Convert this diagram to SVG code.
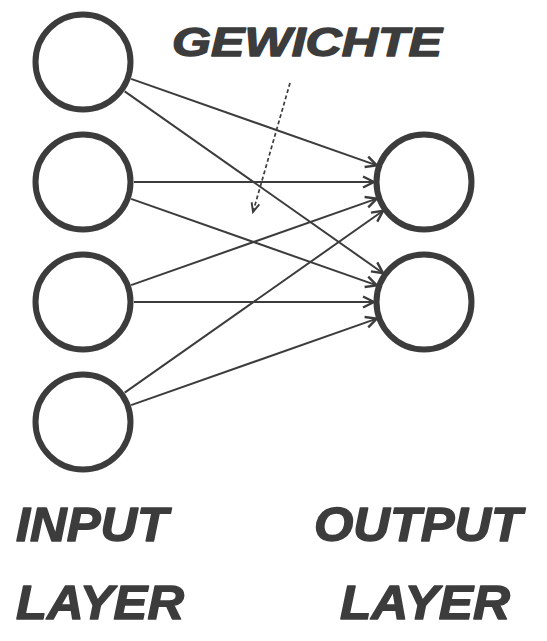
<svg xmlns="http://www.w3.org/2000/svg" width="547" height="641" viewBox="0 0 547 641">
  <style>
    .node { fill: #ffffff; stroke: #3c3c3c; stroke-width: 6; }
    .edge { stroke: #3c3c3c; stroke-width: 2; fill: none; }
    .hint { stroke: #3c3c3c; stroke-width: 1.7; fill: none; stroke-dasharray: 4 2.5; }
    .label { font-family: "Liberation Sans", "DejaVu Sans", sans-serif; font-weight: bold; font-style: italic; fill: #3c3c3c; stroke: #3c3c3c; stroke-width: 1.4; stroke-linejoin: round; }
  </style>
  <defs>
    <marker id="arrow" markerUnits="userSpaceOnUse" markerWidth="15" markerHeight="15" refX="12" refY="6.5" orient="auto" viewBox="0 0 15 13">
      <path d="M1,1 L12,6.5 L1,12" fill="none" stroke="#3c3c3c" stroke-width="2.4" stroke-linejoin="miter"/>
    </marker>
    <marker id="arrow-small" markerUnits="userSpaceOnUse" markerWidth="12" markerHeight="12" refX="10" refY="5" orient="auto" viewBox="0 0 12 10">
      <path d="M1,1 L10,5 L1,9" fill="none" stroke="#3c3c3c" stroke-width="1.9"/>
    </marker>
  </defs>

  <rect width="547" height="641" fill="#ffffff"/>

  <!-- weighted connections: every input neuron feeds every output neuron -->
  <g id="connectors">
    <line class="edge" x1="131.1" y1="78.9" x2="376.8" y2="165.4" marker-end="url(#arrow)"/>
    <line class="edge" x1="124.7" y1="91.4" x2="383.1" y2="273.2" marker-end="url(#arrow)"/>
    <line class="edge" x1="134" y1="182" x2="374" y2="182" marker-end="url(#arrow)"/>
    <line class="edge" x1="131.1" y1="198.9" x2="376.8" y2="285.4" marker-end="url(#arrow)"/>
    <line class="edge" x1="131.1" y1="285.1" x2="376.8" y2="198.6" marker-end="url(#arrow)"/>
    <line class="edge" x1="134" y1="302" x2="374" y2="302" marker-end="url(#arrow)"/>
    <line class="edge" x1="124.7" y1="392.6" x2="383.1" y2="210.8" marker-end="url(#arrow)"/>
    <line class="edge" x1="131.1" y1="405.1" x2="376.8" y2="318.6" marker-end="url(#arrow)"/>
    <!-- pointer from the "weights" caption into the connections -->
    <line class="hint" x1="290" y1="83" x2="253" y2="212" marker-end="url(#arrow-small)"/>
  </g>

  <!-- input layer -->
  <g id="input-1"><circle class="node" cx="83" cy="62" r="47.5"/></g>
  <g id="input-2"><circle class="node" cx="83" cy="182" r="47.5"/></g>
  <g id="input-3"><circle class="node" cx="83" cy="302" r="47.5"/></g>
  <g id="input-4"><circle class="node" cx="83" cy="422" r="47.5"/></g>

  <!-- output layer -->
  <g id="output-1"><circle class="node" cx="424" cy="182" r="47.5"/></g>
  <g id="output-2"><circle class="node" cx="424" cy="302" r="47.5"/></g>

  <!-- captions -->
  <g id="caption-weights">
    <text class="label" x="172" y="56" font-size="41" textLength="270" lengthAdjust="spacingAndGlyphs">GEWICHTE</text>
  </g>
  <g id="caption-input">
    <text class="label" x="16" y="541" font-size="49" textLength="152" lengthAdjust="spacingAndGlyphs">INPUT</text>
    <text class="label" x="16" y="619" font-size="49" textLength="168" lengthAdjust="spacingAndGlyphs">LAYER</text>
  </g>
  <g id="caption-output">
    <text class="label" x="314" y="541" font-size="49" textLength="208" lengthAdjust="spacingAndGlyphs">OUTPUT</text>
    <text class="label" x="340" y="619" font-size="49" textLength="170" lengthAdjust="spacingAndGlyphs">LAYER</text>
  </g>
</svg>
